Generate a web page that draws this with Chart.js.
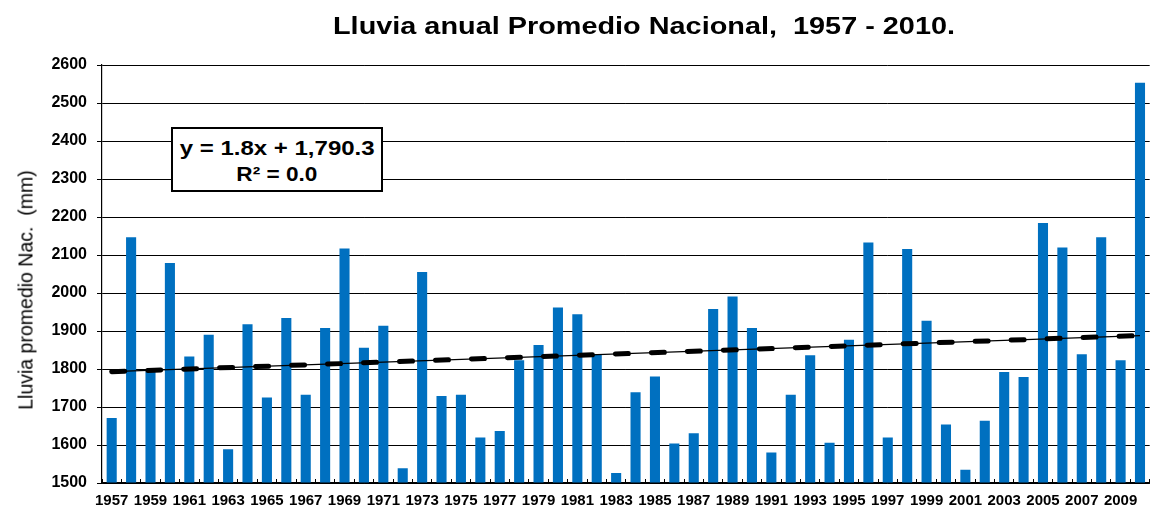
<!DOCTYPE html>
<html>
<head>
<meta charset="utf-8">
<script src="https://cdn.jsdelivr.net/npm/chart.js@4.4.1/dist/chart.umd.min.js"></script>
<style>
  html, body { margin: 0; padding: 0; background: #fff; }
  #wrap { position: relative; width: 1153px; height: 510px; overflow: hidden; }
  canvas { position: absolute; left: 0; top: 0; }
  #title { position: absolute; left: 333px; top: 15px; font: bold 23px "Liberation Sans", Arial, sans-serif; line-height: 23px; white-space: pre; color: #000; transform-origin: 0 0; display: inline-block; }
  #ytitle { position: absolute; left: 26px; top: 290px; font: 19.5px "Liberation Sans", Arial, sans-serif; white-space: pre; color: #000; transform: translate(-50%, -50%) rotate(-90deg); }
  #eq { position: absolute; left: 171px; top: 127px; width: 212px; height: 65px; box-sizing: border-box; border: 2px solid #000; background: #fff; text-align: center; font: bold 20px "Liberation Sans", Arial, sans-serif; line-height: 26px; padding-top: 6px; color: #000; }
  #eq span { display: inline-block; white-space: pre; }
</style>
</head>
<body>
<div id="wrap">
  <canvas id="c" width="1153" height="510"></canvas>
  <span id="title">Lluvia anual Promedio Nacional,  1957 - 2010.</span>
  <div id="ytitle">Lluvia promedio Nac.  (mm)</div>
  <div id="eq"><span style="transform: scaleX(1.2)">y = 1.8x + 1,790.3</span><br><span style="transform: scaleX(1.13)">R² = 0.0</span></div>
</div>
<script>
const years = ['1957','1958','1959','1960','1961','1962','1963','1964','1965','1966',
  '1967','1968','1969','1970','1971','1972','1973','1974','1975','1976',
  '1977','1978','1979','1980','1981','1982','1983','1984','1985','1986',
  '1987','1988','1989','1990','1991','1992','1993','1994','1995','1996',
  '1997','1998','1999','2000','2001','2002','2003','2004','2005','2006',
  '2007','2008','2009','2010'];
const rainfall = [1671,2147,1793,2079,1833,1890,1589,1918,1725,1934,
  1732,1908,2117,1856,1914,1539,2055,1729,1732,1620,
  1637,1823,1863,1962,1944,1839,1526,1739,1780,1604,
  1631,1958,1991,1908,1580,1732,1836,1606,1877,2133,
  1620,2116,1927,1654,1535,1664,1792,1779,2184,2120,
  1839,2147,1823,2553];
const trendYears = ['1957','2010'];
const trendValues = [1793,1888];
const yMin = 1500, yMax = 2600, yStep = 100;

// fit title width
const t = document.getElementById('title');
const tw = t.getBoundingClientRect().width;
t.style.transform = 'scaleX(' + (622 / tw) + ')';

const trendPts = trendYears.map((y, i) => ({x: y, y: trendValues[i]}));

new Chart(document.getElementById('c'), {
  data: {
    labels: years,
    datasets: [
      { type: 'line', data: trendPts, borderColor: '#000', borderWidth: 5, borderDash: [13, 23],
        borderCapStyle: 'round', pointRadius: 0, order: 0 },
      { type: 'line', data: trendPts, borderColor: '#000', borderWidth: 1.3, pointRadius: 0, order: 1 },
      { type: 'bar', data: rainfall, backgroundColor: '#0070C0', base: yMin,
        barPercentage: 0.52, categoryPercentage: 1.0, order: 2 }
    ]
  },
  options: {
    responsive: false,
    animation: false,
    devicePixelRatio: 1,
    layout: { padding: { top: 65, right: 1, left: 0, bottom: 0 } },
    plugins: { legend: { display: false }, title: { display: false }, tooltip: { enabled: false } },
    scales: {
      x: {
        type: 'category',
        z: 1,
        offset: true,
        afterFit: s => { s.height = 27; },
        grid: { display: true, offset: true, drawOnChartArea: false, tickLength: -4, color: '#000', lineWidth: 1 },
        border: { display: true, color: '#000', width: 1.5 },
        ticks: {
          autoSkip: false, maxRotation: 0, minRotation: 0, padding: 13,
          color: '#000', font: { family: '"Liberation Sans", Arial, sans-serif', size: 15, weight: 'bold' },
          callback: function(v, i) { return i % 2 === 0 ? years[i] : ''; }
        }
      },
      y: {
        min: yMin, max: yMax,
        afterFit: s => { s.width = 102; },
        grid: { color: '#000', lineWidth: 1, borderDash: [4, 2], tickLength: 5, tickColor: '#000', tickBorderDash: [] },
        border: { display: true, color: '#000', width: 1.2, dash: [] },
        ticks: {
          stepSize: yStep, padding: 10, color: '#000',
          font: { family: '"Liberation Sans", Arial, sans-serif', size: 16, weight: 'bold' },
          callback: v => String(v)
        }
      }
    }
  }
});
</script>
</body>
</html>
